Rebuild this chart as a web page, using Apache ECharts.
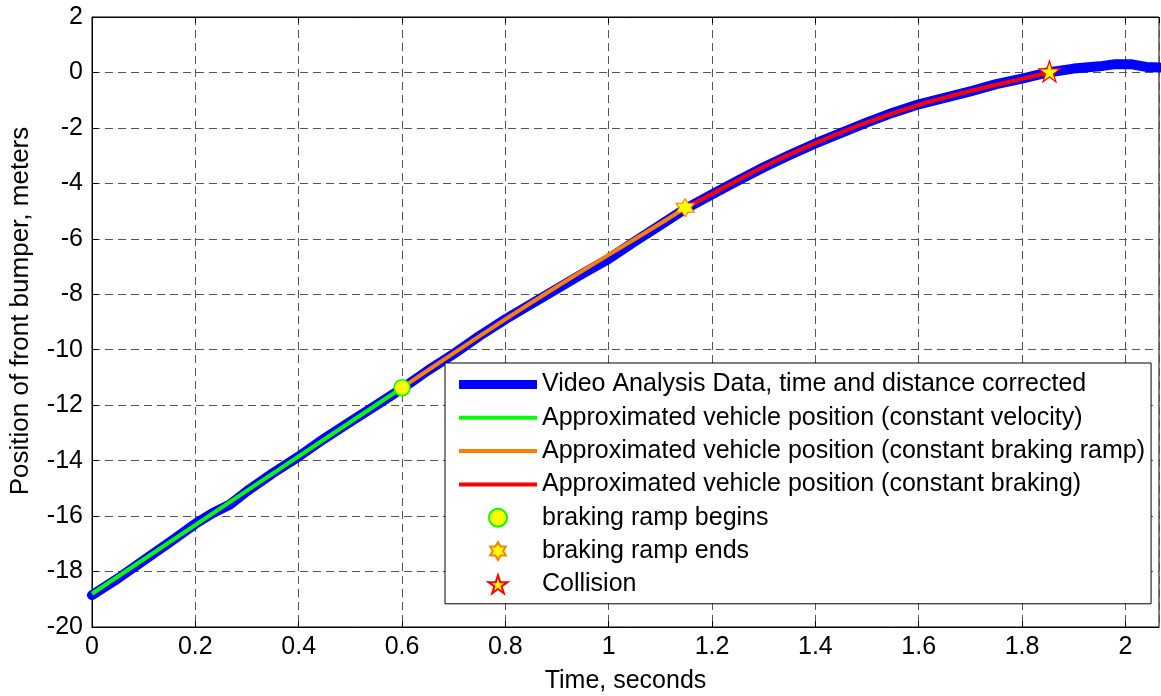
<!DOCTYPE html>
<html><head><meta charset="utf-8">
<script src="https://cdn.jsdelivr.net/npm/echarts@6/dist/echarts.min.js"></script>
<style>html,body{margin:0;padding:0;background:#fff}#c{width:1161px;height:696px}</style>
</head><body><div id="c"></div>
<script>
// ---- data ----
const seriesNames = [
  'Video Analysis Data, time and distance corrected',
  'Approximated vehicle position (constant velocity)',
  'Approximated vehicle position (constant braking ramp)',
  'Approximated vehicle position (constant braking)',
  'braking ramp begins',
  'braking ramp ends',
  'Collision'
];
const videoT = [0, 0.05, 0.1, 0.15, 0.2, 0.233, 0.267, 0.3, 0.35, 0.4, 0.45, 0.5, 0.55, 0.6, 0.65, 0.7, 0.75, 0.8, 0.85, 0.9, 0.95, 1.0, 1.05, 1.1, 1.15, 1.2, 1.25, 1.3, 1.35, 1.4, 1.45, 1.5, 1.55, 1.6, 1.65, 1.7, 1.75, 1.8, 1.85, 1.9, 1.95, 1.98, 2.01, 2.04, 2.066];
const videoV = [-18.85, -18.25, -17.6, -16.95, -16.28, -15.9, -15.58, -15.1, -14.45, -13.85, -13.2, -12.6, -12.0, -11.4, -10.75, -10.15, -9.5, -8.9, -8.35, -7.8, -7.25, -6.72, -6.1, -5.5, -4.9, -4.4, -3.9, -3.42, -2.98, -2.56, -2.18, -1.8, -1.45, -1.15, -0.92, -0.68, -0.42, -0.22, 0.0, 0.14, 0.22, 0.3, 0.3, 0.2, 0.18];
const constVelT = [0, 0.3, 0.6];
const constVelV = [-18.8, -15.08, -11.37];
const rampT = [0.6, 0.7, 0.8, 0.9, 1.0, 1.1, 1.148];
const rampV = [-11.37, -10.12, -8.9, -7.72, -6.58, -5.45, -4.88];
const brakeT = [1.148, 1.2, 1.3, 1.4, 1.5, 1.6, 1.7, 1.8, 1.853];
const brakeV = [-4.88, -4.38, -3.4, -2.55, -1.8, -1.17, -0.67, -0.23, 0.0];
const rampBegins = [0.6, -11.37];
const rampEnds = [1.148, -4.88];
const collision = [1.853, 0.0];
const xMin = 0, xMax = 2.065, xStep = 0.2;
const yMin = -20, yMax = 2, yStep = 2;
const xAxisName = 'Time, seconds';
const yAxisName = 'Position of front bumper, meters';

// ---- helpers ----
const pairs = (t, v) => t.map((x, i) => [x, v[i]]);
const FONT = '"Liberation Sans", Arial, Helvetica, sans-serif';
const FS = 25;
const HEX = 'path://M50 0L64.43 25L93.3 25L78.87 50L93.3 75L64.43 75L50 100L35.57 75L6.7 75L21.13 50L6.7 25L35.57 25Z';
const STAR = 'path://M50 0L61.23 34.55L97.55 34.55L68.16 55.9L79.39 90.45L50 69.1L20.61 90.45L31.84 55.9L2.45 34.55L38.77 34.55Z';
const BAR_THICK = 'path://M0 0H78V9H0Z';
const BAR_THIN = 'path://M0 0H78V4H0Z';

const gridLine = {show: true, lineStyle: {color: '#555', width: 1, type: [8, 5]}};
const chart = echarts.init(document.getElementById('c'), null, {renderer: 'canvas'});
chart.setOption({
  animation: false,
  backgroundColor: '#fff',
  textStyle: {fontFamily: FONT, color: '#000'},
  grid: {left: 92, right: 2, top: 17, bottom: 69, containLabel: false, outerBoundsMode: 'none',
         show: true, borderColor: '#000', borderWidth: 1, backgroundColor: 'transparent'},
  xAxis: [{
    type: 'value', min: xMin, max: xMax, interval: xStep,
    name: xAxisName, nameLocation: 'middle', nameGap: 42,
    nameTextStyle: {fontSize: FS, color: '#000', fontFamily: FONT},
    axisLine: {show: true, onZero: false, lineStyle: {color: '#000', width: 1}},
    axisTick: {show: true, inside: true, length: 6, lineStyle: {color: '#000'}},
    axisLabel: {fontSize: FS, color: '#000', margin: 8, fontFamily: FONT, showMaxLabel: false},
    splitLine: gridLine
  }, {
    type: 'value', position: 'top', min: xMin, max: xMax, interval: xStep,
    axisLine: {show: true, onZero: false, lineStyle: {color: '#000'}},
    axisTick: {show: true, inside: true, length: 6, lineStyle: {color: '#000'}},
    axisLabel: {show: false}, splitLine: {show: false}
  }],
  yAxis: {
    type: 'value', min: yMin, max: yMax, interval: yStep,
    name: yAxisName, nameLocation: 'middle', nameGap: 58, nameRotate: 90,
    nameTextStyle: {fontSize: 26, color: '#000', fontFamily: FONT, padding: [0, 0, 0, 22]},
    axisLine: {show: true, onZero: false, lineStyle: {color: '#000', width: 1}},
    axisTick: {show: true, inside: true, length: 6, lineStyle: {color: '#000'}},
    axisLabel: {fontSize: FS, color: '#000', margin: 9, fontFamily: FONT},
    splitLine: gridLine
  },
  legend: {
    orient: 'vertical', left: 445, top: 363,
    backgroundColor: '#fff', borderColor: '#000', borderWidth: 1, borderRadius: 0,
    padding: [9, 6, 7, 14],
    itemWidth: 78, itemHeight: 18, itemGap: 8.3, itemTextGap: 8,
    selectedMode: false,
    textStyle: {fontSize: FS, color: '#000', fontFamily: FONT},
    data: [
      {name: seriesNames[0], icon: BAR_THICK},
      {name: seriesNames[1], icon: BAR_THIN},
      {name: seriesNames[2], icon: BAR_THIN},
      {name: seriesNames[3], icon: BAR_THIN},
      {name: seriesNames[4]},
      {name: seriesNames[5]},
      {name: seriesNames[6]}
    ]
  },
  series: [
    {name: seriesNames[0], type: 'line', data: pairs(videoT, videoV), symbol: 'none', z: 2,
     lineStyle: {color: '#0000ff', width: 10, cap: 'round', join: 'round'}, itemStyle: {color: '#0000ff', borderWidth: 0}},
    {name: seriesNames[1], type: 'line', data: pairs(constVelT, constVelV), symbol: 'none', z: 3,
     lineStyle: {color: '#00ff00', width: 4, join: 'round'}, itemStyle: {color: '#00ff00', borderWidth: 0}},
    {name: seriesNames[2], type: 'line', data: pairs(rampT, rampV), symbol: 'none', z: 3, smooth: 0.3,
     lineStyle: {color: '#ff8000', width: 4, join: 'round'}, itemStyle: {color: '#ff8000', borderWidth: 0}},
    {name: seriesNames[3], type: 'line', data: pairs(brakeT, brakeV), symbol: 'none', z: 3, smooth: 0.3,
     lineStyle: {color: '#ff0000', width: 4, join: 'round'}, itemStyle: {color: '#ff0000', borderWidth: 0}},
    {name: seriesNames[4], type: 'scatter', data: [rampBegins], symbol: 'circle', symbolSize: 16, z: 5,
     itemStyle: {color: '#ffff00', borderColor: '#00ff00', borderWidth: 1.5, opacity: 1}},
    {name: seriesNames[5], type: 'scatter', data: [rampEnds], symbol: HEX, symbolSize: 18, z: 5,
     itemStyle: {color: '#ffff00', borderColor: '#ff8000', borderWidth: 1.2, opacity: 1}},
    {name: seriesNames[6], type: 'scatter', data: [collision], symbol: STAR, symbolSize: 21,
     symbolOffset: [0, '-5%'], z: 5,
     itemStyle: {color: '#ffff00', borderColor: '#ff0000', borderWidth: 1.2, opacity: 1}}
  ]
});
</script></body></html>
